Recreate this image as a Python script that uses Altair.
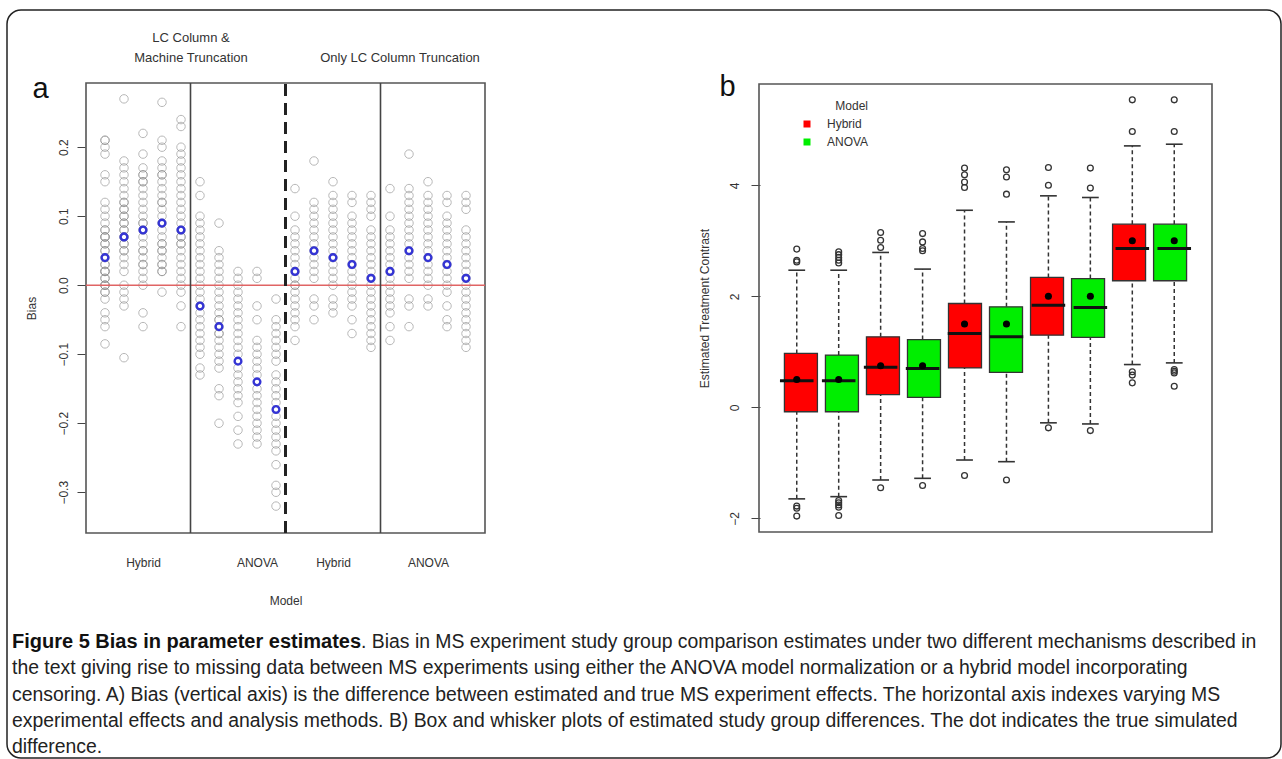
import altair as alt
import pandas as pd

# ---------------- Panel a data (bias per simulated setting) ----------------
HYBRID_LC = [
    [0.21, 0.21, 0.20, 0.19, 0.16, 0.15, 0.12, 0.11, 0.10, 0.09, 0.08, 0.08, 0.07, 0.07, 0.07, 0.06, 0.06,
     0.05, 0.05, 0.04, 0.03, 0.03, 0.02, 0.02, 0.02, 0.01, 0.01, 0.00, 0.00, 0.00, -0.01, -0.01, -0.02,
     -0.04, -0.05, -0.06, -0.085],
    [0.27, 0.18, 0.17, 0.16, 0.15, 0.14, 0.13, 0.12, 0.12, 0.11, 0.11, 0.10, 0.10, 0.09, 0.09, 0.08, 0.08,
     0.07, 0.07, 0.06, 0.06, 0.05, 0.05, 0.04, 0.03, 0.02, 0.00, -0.01, -0.02, -0.03, -0.105],
    [0.22, 0.19, 0.17, 0.16, 0.16, 0.15, 0.15, 0.14, 0.13, 0.12, 0.11, 0.10, 0.09, 0.09, 0.08, 0.07, 0.06,
     0.05, 0.05, 0.04, 0.03, 0.03, 0.02, 0.01, 0.00, -0.04, -0.06],
    [0.265, 0.21, 0.20, 0.18, 0.17, 0.16, 0.16, 0.15, 0.14, 0.13, 0.12, 0.12, 0.11, 0.10, 0.09, 0.08, 0.07,
     0.06, 0.06, 0.05, 0.05, 0.04, 0.03, 0.03, 0.02, 0.02, -0.01],
    [0.24, 0.23, 0.20, 0.19, 0.18, 0.17, 0.16, 0.15, 0.14, 0.13, 0.12, 0.11, 0.10, 0.09, 0.08, 0.07, 0.07,
     0.06, 0.06, 0.05, 0.04, 0.03, 0.02, 0.01, 0.00, -0.01, -0.03, -0.06],
]
ANOVA_LC = [
    [0.15, 0.13, 0.10, 0.09, 0.08, 0.07, 0.06, 0.05, 0.04, 0.03, 0.02, 0.01, 0.00, -0.01, -0.02, -0.03,
     -0.04, -0.05, -0.06, -0.07, -0.08, -0.09, -0.10, -0.12, -0.13],
    [0.09, 0.05, 0.04, 0.03, 0.02, 0.01, 0.00, -0.01, -0.02, -0.03, -0.04, -0.05, -0.05, -0.06, -0.07,
     -0.07, -0.08, -0.09, -0.10, -0.11, -0.12, -0.15, -0.16, -0.20],
    [0.02, 0.01, 0.00, -0.01, -0.02, -0.03, -0.04, -0.05, -0.06, -0.07, -0.08, -0.09, -0.10, -0.12, -0.13,
     -0.14, -0.15, -0.16, -0.17, -0.19, -0.21, -0.23],
    [0.02, 0.01, -0.03, -0.05, -0.08, -0.09, -0.10, -0.11, -0.12, -0.13, -0.15, -0.16, -0.17, -0.18, -0.19,
     -0.20, -0.21, -0.22, -0.23],
    [-0.02, -0.05, -0.06, -0.07, -0.08, -0.09, -0.10, -0.11, -0.13, -0.14, -0.15, -0.16, -0.17, -0.19, -0.20,
     -0.21, -0.22, -0.23, -0.24, -0.26, -0.29, -0.30, -0.32],
]
HYBRID_ONLY = [
    [0.14, 0.10, 0.08, 0.07, 0.06, 0.05, 0.04, 0.03, 0.02, 0.01, 0.00, 0.00, -0.01, -0.02, -0.03, -0.04,
     -0.05, -0.06, -0.08],
    [0.18, 0.12, 0.11, 0.10, 0.09, 0.08, 0.07, 0.06, 0.05, 0.04, 0.03, 0.02, 0.01, -0.02, -0.03, -0.05],
    [0.15, 0.13, 0.12, 0.11, 0.10, 0.09, 0.08, 0.07, 0.06, 0.05, 0.04, 0.03, 0.02, 0.01, 0.00, -0.02, -0.03,
     -0.04],
    [0.13, 0.12, 0.10, 0.09, 0.08, 0.07, 0.06, 0.05, 0.04, 0.03, 0.02, 0.01, 0.00, -0.01, -0.02, -0.03,
     -0.05, -0.07],
    [0.13, 0.12, 0.11, 0.10, 0.08, 0.07, 0.06, 0.05, 0.04, 0.03, 0.02, 0.01, 0.00, -0.01, -0.02, -0.03,
     -0.04, -0.05, -0.06, -0.07, -0.08, -0.09],
]
ANOVA_ONLY = [
    [0.14, 0.10, 0.08, 0.07, 0.06, 0.05, 0.04, 0.03, 0.02, 0.01, 0.00, -0.01, -0.02, -0.03, -0.04, -0.06,
     -0.08],
    [0.19, 0.14, 0.13, 0.12, 0.11, 0.10, 0.09, 0.08, 0.07, 0.06, 0.05, 0.04, 0.03, 0.02, 0.01, -0.02, -0.03,
     -0.06],
    [0.15, 0.13, 0.12, 0.11, 0.10, 0.09, 0.08, 0.07, 0.06, 0.05, 0.04, 0.03, 0.02, 0.01, 0.00, -0.02, -0.03],
    [0.13, 0.12, 0.10, 0.09, 0.08, 0.07, 0.06, 0.05, 0.04, 0.03, 0.02, 0.01, 0.00, -0.01, -0.03, -0.05,
     -0.06],
    [0.13, 0.12, 0.11, 0.08, 0.07, 0.06, 0.05, 0.04, 0.03, 0.02, 0.01, 0.00, -0.01, -0.02, -0.03, -0.04,
     -0.05, -0.06, -0.07, -0.08, -0.09],
]
A_MEANS = [0.04, 0.07, 0.08, 0.09, 0.08, -0.03, -0.06, -0.11, -0.14, -0.18,
           0.02, 0.05, 0.04, 0.03, 0.01, 0.02, 0.05, 0.04, 0.03, 0.01]
A_GROUP_LABELS = ["Hybrid", "ANOVA", "Hybrid", "ANOVA"]
A_GROUP_POS = [3, 9, 13, 18]
A_HEADER_POS = [5.5, 16.5]
A_HEADERS = [["LC Column &", "Machine Truncation"], ["", "Only LC Column Truncation"]]
A_SOLID_SEP = [5.5, 15.5]
A_DASHED_SEP = [10.5]
A_YTICKS = [-0.3, -0.2, -0.1, 0.0, 0.1, 0.2]
A_XDOM = [0, 21]
A_YDOM = [-0.359, 0.293]

# ---------------- Panel b data (box plots) ----------------
B_MODEL = ["Hybrid", "ANOVA"] * 5
B_POS = [1, 2, 3, 4, 5, 6, 7, 8, 9, 10]
B_Q1 = [-0.08, -0.08, 0.23, 0.18, 0.71, 0.63, 1.30, 1.26, 2.28, 2.28]
B_MED = [0.48, 0.48, 0.72, 0.70, 1.33, 1.27, 1.84, 1.80, 2.86, 2.86]
B_Q3 = [0.97, 0.94, 1.27, 1.22, 1.87, 1.81, 2.34, 2.32, 3.30, 3.30]
B_LOW = [-1.65, -1.61, -1.31, -1.28, -0.95, -0.98, -0.28, -0.30, 0.77, 0.80]
B_HIGH = [2.47, 2.47, 2.79, 2.49, 3.55, 3.34, 3.81, 3.78, 4.71, 4.74]
B_TRUE = [0.5, 0.5, 0.75, 0.75, 1.5, 1.5, 2.0, 2.0, 3.0, 3.0]
B_OUTLIERS = [
    [2.62, 2.65, 2.85, -1.78, -1.82, -1.96],
    [2.60, 2.65, 2.70, 2.75, 2.80, -1.68, -1.72, -1.76, -1.80, -1.95],
    [2.88, 3.01, 3.15, -1.45],
    [2.82, 2.86, 2.98, 3.13, -1.41],
    [3.96, 4.06, 4.19, 4.31, -1.23],
    [3.84, 4.15, 4.28, -1.31],
    [4.00, 4.32, -0.37],
    [3.95, 4.31, -0.42],
    [4.97, 5.54, 0.64, 0.58, 0.44],
    [4.97, 5.54, 0.68, 0.65, 0.62, 0.38],
]
B_YTICKS = [-2, 0, 2, 4]
B_XDOM = [0.1, 10.9]
B_YDOM = [-2.247, 5.825]
B_COLORS = ["#ff0000", "#00ee00"]

# ---------------- Caption ----------------
CAPTION_BOLD = "Figure 5 Bias in parameter estimates"
CAPTION_LINES = [
    ". Bias in MS experiment study group comparison estimates under two different mechanisms described in",
    "the text giving rise to missing data between MS experiments using either the ANOVA model normalization or a hybrid model incorporating",
    "censoring. A) Bias (vertical axis) is the difference between estimated and true MS experiment effects. The horizontal axis indexes varying MS",
    "experimental effects and analysis methods. B) Box and whisker plots of estimated study group differences. The dot indicates the true simulated",
    "difference.",
]

FONT = "Liberation Sans"
CAP_FONT = "Liberation Sans"

# ---------------- tables ----------------
cols = HYBRID_LC + ANOVA_LC + HYBRID_ONLY + ANOVA_ONLY
pts = pd.DataFrame([{"col": i + 1, "val": v} for i, c in enumerate(cols) for v in c])
means = pd.DataFrame({"col": list(range(1, 21)), "val": A_MEANS})
frame_a_df = pd.DataFrame({"x": [A_XDOM[0]], "x2": [A_XDOM[1]], "y": [A_YDOM[0]], "y2": [A_YDOM[1]]})
solid_df = pd.DataFrame({"x": A_SOLID_SEP, "y": A_YDOM[0], "y2": A_YDOM[1]})
dashed_df = pd.DataFrame({"x": A_DASHED_SEP, "y": A_YDOM[0], "y2": A_YDOM[1]})
zero_df = pd.DataFrame({"x": [A_XDOM[0]], "x2": [A_XDOM[1]], "y": [0.0]})

boxes = pd.DataFrame({"pos": B_POS, "model": B_MODEL, "q1": B_Q1, "med": B_MED, "q3": B_Q3,
                      "low": B_LOW, "high": B_HIGH, "truth": B_TRUE})
outl = pd.DataFrame([{"pos": B_POS[i], "val": v} for i, o in enumerate(B_OUTLIERS) for v in o])
frame_b_df = pd.DataFrame({"x": [B_XDOM[0]], "x2": [B_XDOM[1]], "y": [B_YDOM[0]], "y2": [B_YDOM[1]]})

cap_df = pd.DataFrame({"c": 0, "line": list(range(len(CAPTION_LINES))), "text": CAPTION_LINES})
cap_bold_df = pd.DataFrame({"c": [0], "line": [0], "text": [CAPTION_BOLD]})

# ---------------- scales (pixel layout of the figure) ----------------
sax = alt.Scale(domain=A_XDOM, range=[79, 478], nice=False, zero=False)
say = alt.Scale(domain=A_YDOM, range=[523, 73], nice=False, zero=False)
sbx = alt.Scale(domain=B_XDOM, range=[752, 1205], nice=False, zero=False)
sby = alt.Scale(domain=B_YDOM, range=[522, 74], nice=False, zero=False)
scx = alt.Scale(domain=[0, 1], range=[5, 1270], nice=False, zero=False)
scy = alt.Scale(domain=[0, 4], range=[632, 737], nice=False, zero=False)

W, H = 1274, 748


def ternary(pos, labels):
    expr = "''"
    for p, l in reversed(list(zip(pos, labels))):
        lab = "[" + ",".join("'%s'" % s for s in l) + "]" if isinstance(l, list) else "'%s'" % l
        expr = "datum.value == %s ? %s : %s" % (p, lab, expr)
    return expr


# ---------------- panel a ----------------
axis_a_left = alt.Axis(orient="left", offset=-78, values=A_YTICKS, domain=False, tickSize=8,
                       tickColor="#444", labelAngle=-90, labelAlign="center", labelBaseline="bottom",
                       labelPadding=7, labelFontSize=12, title="Bias", titlePadding=19, titleFontSize=12,
                       labelExpr="datum.value == 0 ? '0.0' : format(datum.value, '.1f')")
axis_a_bottom = alt.Axis(orient="bottom", offset=-(H - 523), values=A_GROUP_POS,
                         labelExpr=ternary(A_GROUP_POS, A_GROUP_LABELS), domain=False, ticks=False,
                         tickSize=0, labelPadding=24, labelFontSize=12, title="Model", titlePadding=27,
                         titleFontSize=12)
axis_a_top = alt.Axis(orient="top", offset=-73, values=A_HEADER_POS,
                      labelExpr=ternary(A_HEADER_POS, A_HEADERS), domain=False, ticks=False, tickSize=0,
                      labelPadding=39, labelFontSize=13, labelLineHeight=20, labelColor="#333",
                      title="a", titleX=33, titleY=14, titleAngle=0, titleAlign="center",
                      titleBaseline="alphabetic", titleFontSize=29, titleColor="#111")

frame_a = alt.Chart(frame_a_df).mark_rect(fillOpacity=0, stroke="#555", strokeWidth=1.6).encode(
    x=alt.X("x:Q", scale=sax, axis=axis_a_bottom), x2="x2:Q",
    y=alt.Y("y:Q", scale=say, axis=axis_a_left), y2="y2:Q")

points_a = alt.Chart(pts).mark_point(shape="circle", filled=False, size=72, color="#8a8a8a",
                                     strokeWidth=1, opacity=0.6).encode(
    x=alt.X("col:Q", scale=sax, axis=axis_a_top),
    y=alt.Y("val:Q", scale=say, axis=None))

zero_a = alt.Chart(zero_df).mark_rule(color="#e06464", strokeWidth=1.6).encode(
    x=alt.X("x:Q", scale=sax, axis=None), x2="x2:Q", y=alt.Y("y:Q", scale=say, axis=None))

solid_a = alt.Chart(solid_df).mark_rule(color="#444", strokeWidth=1.6).encode(
    x=alt.X("x:Q", scale=sax, axis=None), y=alt.Y("y:Q", scale=say, axis=None), y2="y2:Q")

dashed_a = alt.Chart(dashed_df).mark_rule(color="#222", strokeWidth=3, strokeDash=[12, 7]).encode(
    x=alt.X("x:Q", scale=sax, axis=None), y=alt.Y("y:Q", scale=say, axis=None), y2="y2:Q")

means_a = alt.Chart(means).mark_point(shape="circle", filled=False, size=45, color="#3434d4",
                                      strokeWidth=2.4, opacity=1).encode(
    x=alt.X("col:Q", scale=sax, axis=None), y=alt.Y("val:Q", scale=say, axis=None))

# ---------------- panel b ----------------
axis_b_left = alt.Axis(orient="left", offset=-753, values=B_YTICKS, domain=False, tickSize=9,
                       tickColor="#444", labelAngle=-90, labelAlign="center", labelBaseline="bottom",
                       labelPadding=10, labelFontSize=12, title="Estimated Treatment Contrast",
                       titlePadding=17, titleFontSize=12)
axis_b_top = alt.Axis(orient="top", offset=-74, labels=False, ticks=False, domain=False, tickSize=0,
                      title="b", titleX=720, titleY=11, titleAngle=0, titleAlign="center",
                      titleBaseline="alphabetic", titleFontSize=29, titleColor="#111")

frame_b = alt.Chart(frame_b_df).mark_rect(fillOpacity=0, stroke="#555", strokeWidth=1.6).encode(
    x=alt.X("x:Q", scale=sbx, axis=axis_b_top), x2="x2:Q",
    y=alt.Y("y:Q", scale=sby, axis=axis_b_left), y2="y2:Q")

base_b = alt.Chart(boxes)
whisk_up = base_b.mark_rule(color="#333", strokeWidth=1.5, strokeDash=[4, 3]).encode(
    x=alt.X("pos:Q", scale=sbx, axis=None), y=alt.Y("q3:Q", scale=sby, axis=None), y2="high:Q")
whisk_lo = base_b.mark_rule(color="#333", strokeWidth=1.5, strokeDash=[4, 3]).encode(
    x=alt.X("pos:Q", scale=sbx, axis=None), y=alt.Y("low:Q", scale=sby, axis=None), y2="q1:Q")
cap_hi = base_b.transform_calculate(xl="datum.pos - 0.2", xr="datum.pos + 0.2").mark_rule(
    color="#333", strokeWidth=1.6).encode(
    x=alt.X("xl:Q", scale=sbx, axis=None), x2="xr:Q", y=alt.Y("high:Q", scale=sby, axis=None))
cap_lo = base_b.transform_calculate(xl="datum.pos - 0.2", xr="datum.pos + 0.2").mark_rule(
    color="#333", strokeWidth=1.6).encode(
    x=alt.X("xl:Q", scale=sbx, axis=None), x2="xr:Q", y=alt.Y("low:Q", scale=sby, axis=None))
box_b = base_b.mark_bar(size=33, stroke="#333", strokeWidth=1.3).encode(
    x=alt.X("pos:Q", scale=sbx, axis=None), y=alt.Y("q1:Q", scale=sby, axis=None), y2="q3:Q",
    color=alt.Color("model:N", scale=alt.Scale(domain=["Hybrid", "ANOVA"], range=B_COLORS),
                    legend=alt.Legend(orient="none", legendX=794, legendY=91, title="Model",
                                      titleAnchor="end", titleFontSize=12, titleFontWeight="normal",
                                      titleColor="#333", titlePadding=5, labelFontSize=12,
                                      labelColor="#333", labelFont=FONT, titleFont=FONT,
                                      symbolType="square", symbolSize=49, symbolStrokeWidth=0,
                                      labelOffset=14, rowPadding=6, padding=0)))
med_b = base_b.transform_calculate(xl="datum.pos - 0.4", xr="datum.pos + 0.4").mark_rule(
    color="#111", strokeWidth=3).encode(
    x=alt.X("xl:Q", scale=sbx, axis=None), x2="xr:Q", y=alt.Y("med:Q", scale=sby, axis=None))
dot_b = base_b.mark_circle(size=50, color="#000", opacity=1).encode(
    x=alt.X("pos:Q", scale=sbx, axis=None), y=alt.Y("truth:Q", scale=sby, axis=None))
out_b = alt.Chart(outl).mark_point(shape="circle", filled=False, size=34, color="#333",
                                   strokeWidth=1.3, opacity=1).encode(
    x=alt.X("pos:Q", scale=sbx, axis=None), y=alt.Y("val:Q", scale=sby, axis=None))

# ---------------- caption ----------------
cap_bold = alt.Chart(cap_bold_df).mark_text(align="left", baseline="middle", font=CAP_FONT,
                                            fontSize=20, fontWeight="bold", color="#111").encode(
    x=alt.X("c:Q", scale=scx, axis=None), y=alt.Y("line:Q", scale=scy, axis=None), text="text:N")
cap_first = alt.Chart(cap_df[cap_df.line == 0]).mark_text(align="left", baseline="middle", font=CAP_FONT,
                                                          fontSize=19.4, color="#222", dx=349).encode(
    x=alt.X("c:Q", scale=scx, axis=None), y=alt.Y("line:Q", scale=scy, axis=None), text="text:N")
cap_rest = alt.Chart(cap_df[cap_df.line > 0]).mark_text(align="left", baseline="middle", font=CAP_FONT,
                                                        fontSize=19.4, color="#222").encode(
    x=alt.X("c:Q", scale=scx, axis=None), y=alt.Y("line:Q", scale=scy, axis=None), text="text:N")

chart = alt.layer(
    frame_a, points_a, zero_a, solid_a, dashed_a, means_a,
    frame_b, whisk_up, whisk_lo, cap_hi, cap_lo, box_b, med_b, dot_b, out_b,
    cap_bold, cap_first, cap_rest,
).resolve_scale(x="independent", y="independent", color="independent").properties(
    width=W, height=H,
    padding={"left": 7, "top": 10, "right": 1, "bottom": 1},
    autosize=alt.AutoSizeParams(type="none"),
    background="white",
).configure_view(
    stroke="#222", strokeWidth=1.5, cornerRadius=14, fill="white"
).configure_axis(
    grid=False, labelFont=FONT, titleFont=FONT, labelColor="#333", titleColor="#333",
    titleFontWeight="normal"
)

chart.save("out.html", embed_options={"renderer": "svg", "actions": False})
